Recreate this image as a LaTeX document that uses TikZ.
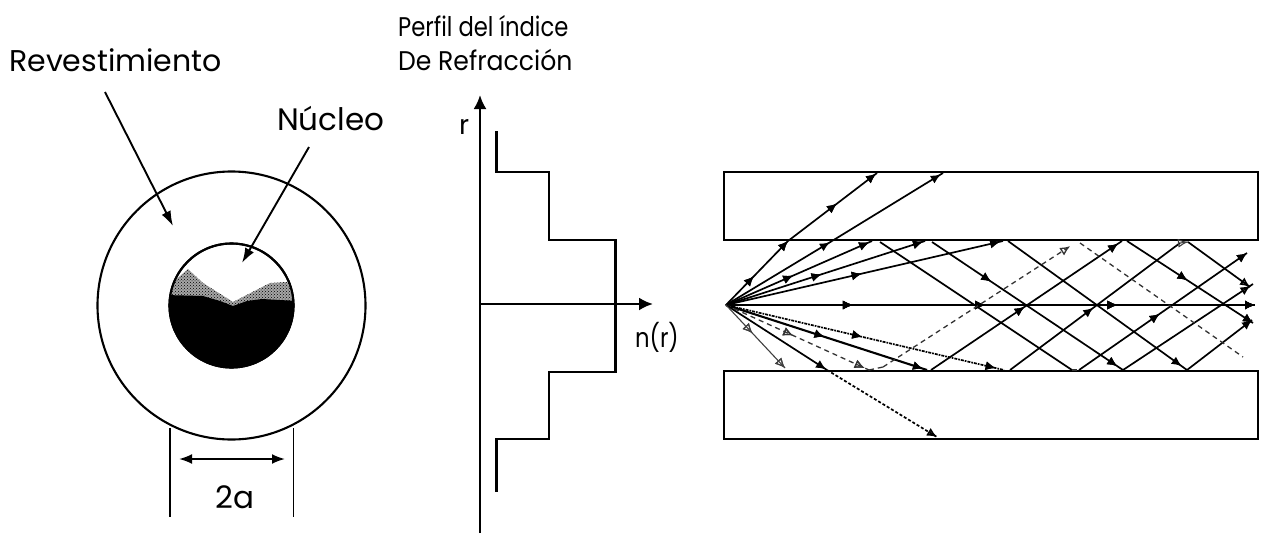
\documentclass[tikz,border=0pt]{standalone}
\usepackage{fontspec}
\setmainfont{Poppins}
\newfontfamily\narrowA[FakeStretch=0.84]{Poppins}
\newfontfamily\narrowB[FakeStretch=0.93]{Poppins}
\usetikzlibrary{arrows.meta,decorations.markings,patterns}
\tikzset{
  x=1pt,y=-1pt,
  label text/.style={inner sep=0pt,anchor=base west,font=\fontsize{#1}{32}\selectfont},
  ring/.style={circle,draw,line width=2.1pt,inner sep=0pt},
  clad/.style={draw,line width=2.8pt,inner sep=0pt,minimum width=534pt,minimum height=68pt},
  leader/.style={line width=1.9pt,-{Latex[length=15pt,width=10pt]}},
  dim/.style={line width=1.5pt},
  axis/.style={line width=2.4pt,-{Latex[length=14pt,width=13pt]}},
  ray/.style={line width=1.7pt},
  faint/.style={line width=1.1pt,black!75},
  dashray/.style={line width=1.3pt,black!80,dash pattern=on 5pt off 4pt},
  tip/.style={postaction={decorate},decoration={markings,mark=at position #1 with {\arrow{Latex[length=10pt,width=9pt]}}}},
  opentip/.style={postaction={decorate},decoration={markings,mark=at position #1 with {\arrow{Latex[open,length=10pt,width=9pt]}}}},
}
\begin{document}
\begin{tikzpicture}
\useasboundingbox (0,0) rectangle (1264,533);
% fibre section
\node[ring,minimum size=268pt] (outer) at (231.5,305.5) {};
\node[ring,minimum size=124pt] (core) at (231.5,305.5) {};
\begin{scope}
  \clip (231.5,305.5) circle (62pt);
  \fill[black!35] (172,283) -- (188,269) -- (203,283) -- (233,302) -- (270,283) -- (287,282) -- (296,300) -- (296,310) -- (168,310) -- (168,295) -- cycle;
  \fill[pattern=crosshatch dots,pattern color=black] (172,283) -- (188,269) -- (203,283) -- (233,302) -- (270,283) -- (287,282) -- (296,300) -- (296,310) -- (168,310) -- (168,295) -- cycle;
  \fill (165,295) -- (203,296) -- (220,301) -- (233,306) -- (247,301) -- (262,299) -- (298,301) -- (298,370) -- (165,370) -- cycle;
\end{scope}
\node[ring,minimum size=124pt] at (231.5,305.5) {};
\node[label text=30] (rev) at (9,71) {Revestimiento};
\node[label text=31] (nuc) at (277,130) {Núcleo};
\coordinate (revS) at (105,92);
\coordinate (revE) at (173,226);
\coordinate (nucS) at (309,147);
\coordinate (nucE) at (242,263);
\draw[leader] (revS) -- (revE);
\draw[leader] (nucS) -- (nucE);
\coordinate (dl1) at (170,428); \coordinate (dl2) at (170,517);
\coordinate (dr1) at (293.5,428); \coordinate (dr2) at (293.5,517);
\draw[dim] (dl1) -- (dl2);
\draw[dim] (dr1) -- (dr2);
\coordinate (da) at (179,459); \coordinate (db) at (285,459);
\draw[line width=2pt,{Latex[length=13pt,width=10pt]}-{Latex[length=13pt,width=10pt]}] (da) -- (db);
\node[label text=31] (twoa) at (215,508) {2a};
% index profile
\node[label text=27] (perfil) at (398,36) {\narrowA Perfil del índice};
\node[label text=27] (refr) at (398,70) {\narrowB De Refracción};
\coordinate (vb) at (480,533); \coordinate (vt) at (480,95);
\coordinate (ho) at (480,304); \coordinate (hr) at (653,304);
\draw[axis] (vb) -- (vt);
\draw[axis] (ho) -- (hr);
\node[label text=27] (rr) at (459,134) {r};
\node[label text=27] (nr) at (635,347) {\narrowA n(r)};
\draw[line width=2.2pt] (496.5,131) -- (496.5,172) -- (549,172) -- (549,240) -- (615.5,240) -- (615.5,372) -- (549,372) -- (549,439) -- (496.5,439) -- (496.5,492);
% waveguide
\node[clad] (up) at (991,206) {};
\node[clad] (lo) at (991,405) {};
\coordinate (s) at (726,305);
\coordinate (a1) at (788,241); \coordinate (a2) at (877,173);
\coordinate (b1) at (832,241); \coordinate (b2) at (943,173);
\coordinate (c1) at (872,241); \coordinate (c2) at (880,242); \coordinate (c3) at (1072,370); \coordinate (c4) at (1079,370); \coordinate (c5) at (1247,253);
\coordinate (d1) at (925,241); \coordinate (d2) at (932,242); \coordinate (d3) at (1123,370); \coordinate (d4) at (1253,284);
\coordinate (e1) at (1003,241); \coordinate (e2) at (1008,241); \coordinate (e3) at (1187,370); \coordinate (e4) at (1252,320);
\coordinate (ax) at (1255,305);
\coordinate (f1) at (927,370); \coordinate (f2) at (931,370); \coordinate (f3) at (1122,241); \coordinate (f4) at (1127,241); \coordinate (f5) at (1253,323);
\coordinate (g1) at (1004,370); \coordinate (g2) at (1010,370); \coordinate (g3) at (1180,243); \coordinate (g4) at (1188,242); \coordinate (g5) at (1250,287);
\coordinate (h1) at (869,370); \coordinate (h2) at (883,367); \coordinate (h3) at (1072,245); \coordinate (h4) at (1080,243); \coordinate (h5) at (1243,357);
\coordinate (i1) at (827,370); \coordinate (i2) at (937,437);
\coordinate (j1) at (785,368);
\draw[ray,tip=.45,tip=1] (s) -- (a1);
\draw[ray,tip=.55,tip=.99] (a1) -- (a2);
\draw[ray,tip=.98] (s) -- (b1);
\draw[ray,tip=.98] (b1) -- (b2);
\draw[ray,tip=.46,tip=.98] (s) -- (c1);
\draw[ray] (c2) -- (c3);
\draw[dashray] (c3) -- (c4);
\draw[ray,tip=.48,tip=1] (c4) -- (c5);
\draw[ray,tip=.48,tip=.99] (s) -- (d1);
\draw[ray,tip=.31,tip=.97] (d2) -- (d3);
\draw[ray,opentip=.98] (d3) -- (d4);
\draw[ray,tip=.49,tip=.99] (s) -- (e1);
\draw[ray,tip=.97] (e2) -- (e3);
\draw[ray,tip=1] (e3) -- (e4);
\draw[ray,tip=.24,tip=.49,tip=.74,tip=1] (s) -- (ax);
\draw[line width=2.1pt,tip=.49,tip=.98] (s) -- (f1);
\draw[ray,tip=.49,tip=.98] (f2) -- (f3);
\draw[ray,tip=.48,tip=1] (f4) -- (f5);
\draw[ray,densely dashdotted,tip=.49,tip=.97] (s) -- (g1);
\draw[ray,tip=.49] (g2) -- (g3);
\draw[faint,opentip=1] (g3) -- (g4);
\draw[ray,opentip=1] (g4) -- (g5);
\draw[dashray,opentip=.47,opentip=.97] (s) -- (h1);
\draw[dashray] (h1) -- (h2);
\draw[dashray,opentip=.99] (h2) -- (h3);
\draw[dashray] (h4) -- (h5);
\draw[ray,tip=.99] (s) -- (i1);
\draw[ray,densely dashed,opentip=1] (i1) -- (i2);
\draw[faint,opentip=.45,opentip=1] (s) -- (j1);
\end{tikzpicture}
\end{document}
